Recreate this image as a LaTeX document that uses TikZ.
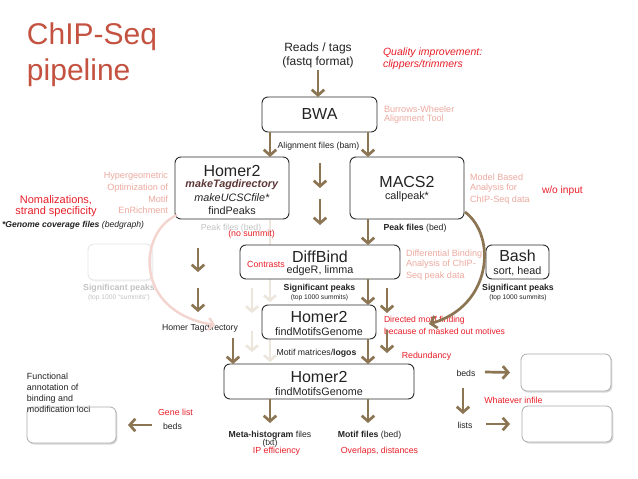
\documentclass[tikz,border=0pt]{standalone}
\usepackage{fontspec}
\setmainfont{Liberation Sans}
\usetikzlibrary{arrows.meta,shadows,calc}
\definecolor{arrowc}{RGB}{140,117,82}
\definecolor{titlec}{RGB}{196,82,64}
\definecolor{redc}{RGB}{232,30,40}
\definecolor{pinkc}{RGB}{236,170,160}
\definecolor{txtc}{RGB}{35,35,35}
\definecolor{boxc}{RGB}{45,45,45}
\definecolor{fadec}{RGB}{195,195,195}
\definecolor{faintarr}{RGB}{236,230,220}
\definecolor{faintpink}{RGB}{243,212,207}
\definecolor{tagc}{RGB}{95,55,55}
\begin{document}
\begin{tikzpicture}[x=1pt,y=-1pt,
  every node/.style={inner sep=0pt, outer sep=0pt, text=txtc},
  fs/.style={font=\fontsize{#1}{#1}\selectfont},
  box/.style={draw=boxc, line width=0.9pt, rounded corners=6pt, fill=white},
  sbox/.style={draw=gray!65, line width=0.8pt, rounded corners=6pt, fill=white,
    drop shadow={shadow xshift=1.3pt, shadow yshift=-1.5pt, fill=gray!60}},
  fbox/.style={draw=gray!22, line width=0.8pt, rounded corners=6pt, fill=white,
    drop shadow={shadow xshift=1.3pt, shadow yshift=-1.5pt, fill=gray!18}},
  arr/.style={draw=arrowc, line width=2.7pt, -{Straight Barb[length=5.5pt,width=12.5pt]}},
  farr/.style={draw=faintarr, line width=2.6pt, -{Straight Barb[length=5pt,width=12pt]}},
  parr/.style={draw=faintpink, line width=2.4pt, -{Straight Barb[length=5pt,width=12pt]}},
  red/.style={text=redc, fs=8.8},
  pink/.style={text=pinkc, fs=9.1, anchor=west},
  small/.style={fs=8.7},
  tiny/.style={fs=6.7},
]
\useasboundingbox[fill=white] (0,0) rectangle (638,479);

% ---------- title ----------
\node[anchor=base west, text=titlec, fs=30] (title1) at (27,45) {ChIP-Seq};
\node[anchor=base west, text=titlec, fs=30] (title2) at (27,80) {pipeline};

% ---------- faint background arrows ----------
\coordinate (fa1) at (270,220); \coordinate (fa1e) at (270,302);
\draw[farr] (fa1) -- (fa1e);
\coordinate (fa2) at (270,335); \coordinate (fa2e) at (270,362);
\draw[farr] (fa2) -- (fa2e);
\coordinate (fa3) at (252,288); \coordinate (fa3e) at (252,313);
\draw[farr] (fa3) -- (fa3e);
\coordinate (fa4) at (252,331); \coordinate (fa4e) at (252,352);
\draw[farr] (fa4) -- (fa4e);

% ---------- boxes ----------
\node[box, minimum width=115pt, minimum height=35pt] (bwa) at (319.5,114.5) {};
\node[box, minimum width=114pt, minimum height=62pt] (h2l) at (232,188) {};
\node[box, minimum width=114pt, minimum height=62pt] (macs) at (407,188) {};
\node[box, minimum width=160pt, minimum height=34pt] (dbind) at (320,262) {};
\node[box, minimum width=63pt, minimum height=34pt] (bash) at (517.5,262) {};
\node[box, minimum width=114pt, minimum height=34pt] (h2m) at (319,322) {};
\node[box, minimum width=190pt, minimum height=35pt] (h2b) at (319,381.5) {};
\node[fbox, minimum width=64pt, minimum height=36pt] (fboxl) at (120,262) {};
\node[sbox, minimum width=89pt, minimum height=36pt] (func) at (71.5,425) {};
\node[sbox, minimum width=90pt, minimum height=37pt] (r1) at (566,372.5) {};
\node[sbox, minimum width=90pt, minimum height=36pt] (r2) at (567,424) {};

% ---------- box texts ----------
\node[fs=16] (bwat) at (319.5,114) {BWA};
\node[fs=16] (h2lt1) at (232,171) {Homer2};
\node[fs=10.8, text=tagc] (h2lt2) at (232,185) {\textbf{\textit{makeTagdirectory}}};
\node[fs=10.8] (h2lt3) at (232,198) {\textit{makeUCSCfile*}};
\node[fs=10.8] (h2lt4) at (232,211) {findPeaks};
\node[fs=16] (macst1) at (407,182) {MACS2};
\node[fs=10.8] (macst2) at (407,197) {callpeak*};
\node[fs=16] (dbt1) at (320,257) {DiffBind};
\node[fs=10.8] (dbt2) at (320,271) {edgeR, limma};
\node[red] (contr) at (266,264) {Contrasts};
\node[fs=16] (basht1) at (517.5,256) {Bash};
\node[fs=10.8] (basht2) at (517.5,271) {sort, head};
\node[fs=16] (h2mt1) at (319,316.5) {Homer2};
\node[fs=10.8] (h2mt2) at (319,332) {findMotifsGenome};
\node[fs=16] (h2bt1) at (319,376.5) {Homer2};
\node[fs=10.8] (h2bt2) at (319,392) {findMotifsGenome};

% ---------- labels ----------
\node[fs=12] (reads1) at (318,48) {Reads / tags};
\node[fs=12] (reads2) at (318,62.5) {(fastq format)};
\node[red, fs=10.5, anchor=west] (qual1) at (383,53) {\textit{Quality improvement:}};
\node[red, fs=10.5, anchor=west] (qual2) at (383,65) {\textit{clippers/trimmers}};
\node[pink] (bw1) at (384,109) {Burrows-Wheeler};
\node[pink] (bw2) at (384,119) {Alignment Tool};
\node[small] (alig) at (318.5,146) {Alignment files (bam)};

\node[pink, anchor=east] (hy1) at (168,176.5) {Hypergeometric};
\node[pink, anchor=east] (hy2) at (168,188) {Optimization of};
\node[pink, anchor=east] (hy3) at (168,199.5) {Motif};
\node[pink, anchor=east] (hy4) at (168,210.5) {EnRichment};
\node[text=redc, fs=11] (norm1) at (56,200) {Nomalizations,};
\node[text=redc, fs=11] (norm2) at (56,212) {strand specificity};
\node[fs=8.6, anchor=west] (genome) at (2,225) {\textbf{\textit{*Genome coverage files}} \textit{(bedgraph)}};
\node[small, text=fadec] (pfl) at (231,228) {Peak files (bed)};
\node[red] (nosum) at (251.5,234) {(no summit)};

\node[pink] (mb1) at (470,177) {Model Based};
\node[pink] (mb2) at (470,188.5) {Analysis for};
\node[pink] (mb3) at (470,200) {ChIP-Seq data};
\node[text=redc, fs=10.2, anchor=west] (woi) at (542,191) {w/o input};
\node[small] (pfr) at (415,228) {\textbf{Peak files} (bed)};

\node[pink] (df1) at (406,254) {Differential Binding};
\node[pink] (df2) at (406,264.5) {Analysis of ChIP-};
\node[pink] (df3) at (406,276) {Seq peak data};

\node[small] (sigm1) at (319.5,288.5) {\textbf{Significant peaks}};
\node[tiny] (sigm2) at (319.5,298) {(top 1000 summits)};
\node[small] (sigr1) at (518,288) {\textbf{Significant peaks}};
\node[tiny] (sigr2) at (518,297.5) {(top 1000 summits)};
\node[small, text=fadec] (sigl1) at (119,288) {\textbf{Significant peaks}};
\node[tiny, text=fadec] (sigl2) at (119,297.5) {(top 1000 ``summits'')};

\node[red, fs=8.6, anchor=west] (dir1) at (384,320) {Directed motif finding};
\node[red, fs=8.6, anchor=west] (dir2) at (384,331) {because of masked out motives};
\node[small] (tagdir) at (200,328) {Homer Tagdirectory};
\node[small] (matr) at (316.5,353) {Motif matrices/\textbf{logos}};
\node[red] (redund) at (426.5,356) {Redundancy};

\node[small] (meta1) at (270,435) {\textbf{Meta-histogram} files};
\node[small] (meta2) at (270,443.5) {(txt)};
\node[red] (ipeff) at (276.5,451) {IP efficiency};
\node[small] (motf) at (369.5,435) {\textbf{Motif files} (bed)};
\node[red] (overl) at (379.5,451) {Overlaps, distances};

\node[fs=8.9, anchor=west] (fn1) at (27,376) {Functional};
\node[fs=8.9, anchor=west] (fn2) at (27,387) {annotation of};
\node[fs=8.9, anchor=west] (fn3) at (27,399) {binding and};
\node[fs=8.9, anchor=west] (fn4) at (27,409) {modification loci};
\node[red] (gene) at (175.5,412) {Gene list};
\node[small] (lbeds) at (172.5,426) {beds};

\node[small] (rbeds) at (466,373) {beds};
\node[small] (lists) at (465,425) {lists};
\node[red] (whatev) at (513.5,400) {Whatever infile};

% ---------- arrows ----------
\coordinate (c318) at (318,70);
\coordinate (c270) at (270,0);
\coordinate (c368) at (368,0);
\draw[arr] (c318) -- (c318 |- bwa.north);
\draw[arr] (c270 |- bwa.south) -- (c270 |- h2l.north);
\draw[arr] (c368 |- bwa.south) -- (c368 |- macs.north);
\coordinate (m1) at (320,163); \coordinate (m1e) at (320,188);
\draw[arr] (m1) -- (m1e);
\coordinate (m2) at (320,199); \coordinate (m2e) at (320,225);
\draw[arr] (m2) -- (m2e);
\draw[arr] (c368 |- macs.south) -- (c368 |- dbind.north);
\draw[arr] (c368 |- dbind.south) -- (c368 |- h2m.north);
\coordinate (g1) at (387,288); \coordinate (g1e) at (387,313);
\draw[arr] (g1) -- (g1e);
\coordinate (g2) at (387,330); \coordinate (g2e) at (387,353);
\draw[arr] (g2) -- (g2e);
\draw[arr] (c368 |- h2m.south) -- (c368 |- h2b.north);
\coordinate (l1) at (198,248); \coordinate (l1e) at (198,272);
\draw[arr] (l1) -- (l1e);
\coordinate (l2) at (198,288); \coordinate (l2e) at (198,312);
\draw[arr] (l2) -- (l2e);
\coordinate (c233) at (233,338);
\draw[arr] (c233) -- (c233 |- h2b.north);
\coordinate (mh) at (270,423);
\draw[arr] (c270 |- h2b.south) -- (mh);
\coordinate (mf) at (368,423);
\draw[arr] (c368 |- h2b.south) -- (mf);

% curved arrows
\coordinate (cs) at ($(macs.south east)+(1,-7)$);
\coordinate (ce) at (429,324);
\draw[arr] (cs) .. controls (497,236) and (492,306) .. (ce);
\coordinate (ps) at ($(h2l.south west)+(2,-4)$);
\coordinate (pe) at (215,325);
\draw[parr] (ps) .. controls (138,232) and (133,312) .. (pe);

% bottom side arrows
\coordinate (la) at (152,425);
\draw[arr] (la) -- ($(func.east)+(12,0)$);
\coordinate (ra) at (485,372);
\draw[arr] (ra) -- ($(r1.west)+(-11,0)$);
\coordinate (rd) at (463,388); \coordinate (rde) at (463,414);
\draw[arr] (rd) -- (rde);
\coordinate (rb) at (486,424);
\draw[arr] (rb) -- ($(r2.west)+(-12,0)$);
\end{tikzpicture}
\end{document}
